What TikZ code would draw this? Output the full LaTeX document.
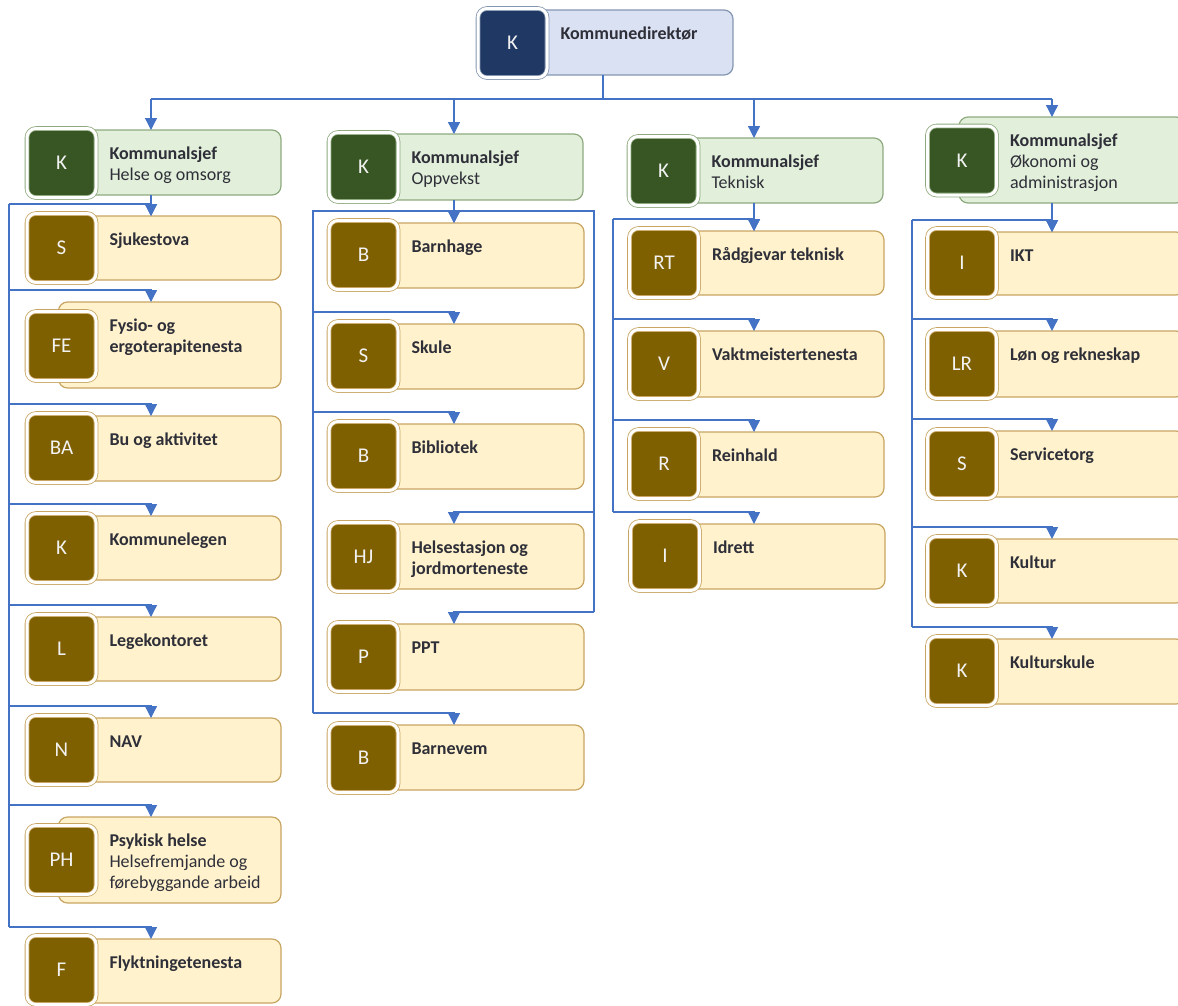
\documentclass[tikz,border=0pt]{standalone}
\usepackage{fontspec}
\setmainfont{Carlito}
\usetikzlibrary{arrows.meta}
\definecolor{conncol}{HTML}{4472C4}
\definecolor{topfill}{HTML}{DAE1F3}
\definecolor{topline}{HTML}{8497B0}
\definecolor{topsq}{HTML}{203864}
\definecolor{headfill}{HTML}{E2EFDA}
\definecolor{headline}{HTML}{8FAA7F}
\definecolor{headsq}{HTML}{375623}
\definecolor{itemfill}{HTML}{FFF2CC}
\definecolor{itemline}{HTML}{C8A562}
\definecolor{itemsq}{HTML}{7F6000}
\definecolor{txtcol}{HTML}{2E2F38}
\definecolor{sqtext}{HTML}{F2F2F2}
\tikzset{
  conn/.style={draw=conncol, line width=1.3pt},
  arr/.style={conn, -{Triangle[width=12pt,length=12pt]}},
  cardbody/.style={rounded corners=9pt, line width=1.2pt, inner sep=0pt, outer sep=0pt},
  cardsq/.style={rounded corners=9pt, minimum width=69pt, minimum height=69pt, inner sep=0pt, outer sep=0pt,
    line width=0.8pt, double distance=3pt, double=white, text=sqtext, font=\fontsize{21}{25}\selectfont},
  lbl/.style={anchor=base west, inner sep=0pt, outer sep=0pt, text=txtcol, font=\fontsize{18}{21}\selectfont},
  topbody/.style={fill=topfill, draw=topline},
  topsq/.style={fill=topsq, draw=topline},
  headbody/.style={fill=headfill, draw=headline},
  headsq/.style={fill=headsq, draw=headline},
  itembody/.style={fill=itemfill, draw=itemline},
  itemsq/.style={fill=itemsq, draw=itemline},
}
% #1 name, #2 kind, #3 square cx, #4 square cy, #5 body top, #6 body bottom, #7 body right, #8 abbr, #9 text
\newcommand\orgcard[9]{%
  \node[cardbody,#2body,minimum width={(#7-#3+3)*1pt},minimum height={(#6-#5)*1pt}] (#1) at ({(#3-3+#7)/2},{(#5+#6)/2}) {};
  \node[cardsq,#2sq] (#1-sq) at (#3,#4) {#8};
  \node[lbl] (#1-txt) at (#3+48,#5+29) {\begin{tabular}[t]{@{}l@{}}#9\end{tabular}};
}
\newcommand\branchto[3]{\draw[arr] ([yshift=12pt]#3.north -| #1) -- ([yshift=12pt]#3.north -| #2) -- (#3.north -| #2);}
\begin{document}
\begin{tikzpicture}[x=1pt,y=-1pt]
\useasboundingbox (0,0) rectangle (1178,1005);
% top
\orgcard{dir}{top}{512.5}{43}{10}{75}{733}{K}{\textbf{Kommunedirektør}}
% heads
\orgcard{h1}{head}{61.5}{163}{130}{195}{281}{K}{\textbf{Kommunalsjef}\\Helse og omsorg}
\orgcard{h2}{head}{363.5}{167}{134}{200}{583}{K}{\textbf{Kommunalsjef}\\Oppvekst}
\orgcard{h3}{head}{663.5}{171}{138}{203}{883}{K}{\textbf{Kommunalsjef}\\Teknisk}
\orgcard{h4}{head}{962}{160.5}{117}{203}{1185}{K}{\textbf{Kommunalsjef}\\Økonomi og\\administrasjon}
% column 1
\orgcard{s1}{item}{61.5}{248}{216}{280}{281}{S}{\textbf{Sjukestova}}
\orgcard{s2}{item}{61.5}{346}{302}{388}{281}{FE}{\textbf{Fysio- og}\\\textbf{ergoterapitenesta}}
\orgcard{s3}{item}{61.5}{448}{416}{481}{281}{BA}{\textbf{Bu og aktivitet}}
\orgcard{s4}{item}{61.5}{548}{516}{580}{281}{K}{\textbf{Kommunelegen}}
\orgcard{s5}{item}{61.5}{649}{617}{681}{281}{L}{\textbf{Legekontoret}}
\orgcard{s6}{item}{61.5}{750}{718}{782}{281}{N}{\textbf{NAV}}
\orgcard{s7}{item}{61.5}{860}{817}{903}{281}{PH}{\textbf{Psykisk helse}\\Helsefremjande og\\førebyggande arbeid}
\orgcard{s8}{item}{61.5}{970}{939}{1003}{281}{F}{\textbf{Flyktningetenesta}}
% column 2
\orgcard{t1}{item}{363.5}{255}{223}{288}{584}{B}{\textbf{Barnhage}}
\orgcard{t2}{item}{363.5}{356}{324}{389}{584}{S}{\textbf{Skule}}
\orgcard{t3}{item}{363.5}{456}{424}{489}{584}{B}{\textbf{Bibliotek}}
\orgcard{t4}{item}{363.5}{557}{524}{589}{584}{HJ}{\textbf{Helsestasjon og}\\\textbf{jordmorteneste}}
\orgcard{t5}{item}{363.5}{657}{624}{690}{584}{P}{\textbf{PPT}}
\orgcard{t6}{item}{363.5}{758}{725}{790}{584}{B}{\textbf{Barnevem}}
% column 3
\orgcard{u1}{item}{664}{263}{231}{295}{884}{RT}{\textbf{Rådgjevar teknisk}}
\orgcard{u2}{item}{664}{364}{331}{397}{884}{V}{\textbf{Vaktmeistertenesta}}
\orgcard{u3}{item}{664}{464}{432}{497}{884}{R}{\textbf{Reinhald}}
\orgcard{u4}{item}{665}{556}{524}{589}{885}{I}{\textbf{Idrett}}
% column 4
\orgcard{v1}{item}{962}{263}{232}{295}{1185}{I}{\textbf{IKT}}
\orgcard{v2}{item}{962}{364}{331}{397}{1185}{LR}{\textbf{Løn og rekneskap}}
\orgcard{v3}{item}{962}{464}{431}{497}{1185}{S}{\textbf{Servicetorg}}
\orgcard{v4}{item}{962}{571}{539}{603}{1185}{K}{\textbf{Kultur}}
\orgcard{v5}{item}{962}{671}{639}{704}{1185}{K}{\textbf{Kulturskule}}
% connector coordinates
\coordinate (tap) at (603,99);
\coordinate (a1) at (151,99);
\coordinate (a2) at (454,99);
\coordinate (a3) at (754,99);
\coordinate (a4) at (1052,99);
\coordinate (b1) at (9,0);
\coordinate (b2l) at (313,0);
\coordinate (b2r) at (594,0);
\coordinate (b3) at (613,0);
\coordinate (b4) at (912,0);
% top level
\draw[conn] (dir.south -| tap) -- (tap);
\draw[conn] (a1) -- (a4);
\draw[arr] (a1) -- (h1.north -| a1);
\draw[arr] (a2) -- (h2.north -| a2);
\draw[arr] (a3) -- (h3.north -| a3);
\draw[arr] (a4) -- (h4.north -| a4);
% column 1
\draw[arr] (h1.south -| a1) -- (s1.north -| a1);
\draw[conn] ([yshift=12pt]s1.north -| b1) -- ([yshift=12pt]s8.north -| b1);
\branchto{b1}{a1}{s1}
\branchto{b1}{a1}{s2}
\branchto{b1}{a1}{s3}
\branchto{b1}{a1}{s4}
\branchto{b1}{a1}{s5}
\branchto{b1}{a1}{s6}
\branchto{b1}{a1}{s7}
\branchto{b1}{a1}{s8}
% column 2
\draw[arr] (h2.south -| a2) -- (t1.north -| a2);
\draw[conn] ([yshift=12pt]t6.north -| b2l) -- ([yshift=12pt]t1.north -| b2l) -- ([yshift=12pt]t1.north -| b2r) -- ([yshift=12pt]t5.north -| b2r);
\branchto{b2l}{a2}{t1}
\branchto{b2l}{a2}{t2}
\branchto{b2l}{a2}{t3}
\branchto{b2r}{a2}{t4}
\branchto{b2r}{a2}{t5}
\branchto{b2l}{a2}{t6}
% column 3
\draw[arr] (h3.south -| a3) -- (u1.north -| a3);
\draw[conn] ([yshift=12pt]u1.north -| b3) -- ([yshift=12pt]u4.north -| b3);
\branchto{b3}{a3}{u1}
\branchto{b3}{a3}{u2}
\branchto{b3}{a3}{u3}
\branchto{b3}{a3}{u4}
% column 4
\draw[arr] (h4.south -| a4) -- (v1.north -| a4);
\draw[conn] ([yshift=12pt]v1.north -| b4) -- ([yshift=12pt]v5.north -| b4);
\branchto{b4}{a4}{v1}
\branchto{b4}{a4}{v2}
\branchto{b4}{a4}{v3}
\branchto{b4}{a4}{v4}
\branchto{b4}{a4}{v5}
\end{tikzpicture}
\end{document}
